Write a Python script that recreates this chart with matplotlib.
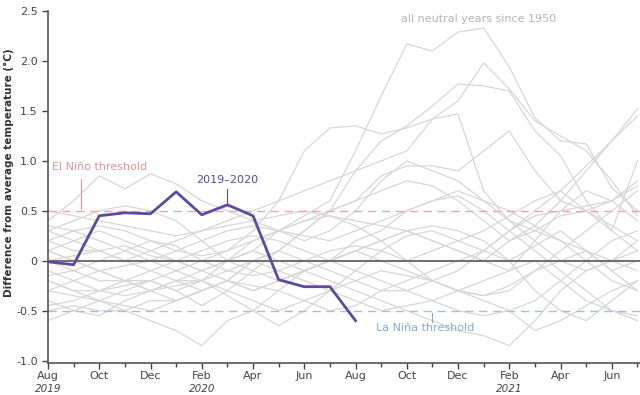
import matplotlib.pyplot as plt
import matplotlib.transforms as mtransforms
import numpy as np

# months since Aug 2019
months = np.arange(24)
tick_labels = ["Aug", "Oct", "Dec", "Feb", "Apr", "Jun",
               "Aug", "Oct", "Dec", "Feb", "Apr", "Jun"]
year_labels = {0: "2019", 6: "2020", 18: "2021"}

enso_2019_2020 = [-0.01, -0.04, 0.45, 0.48, 0.47, 0.69, 0.46, 0.56, 0.45,
                  -0.19, -0.26, -0.26, -0.60]

neutral_years = [
    [0.1, 0.0, -0.1, -0.2, -0.2, -0.3, -0.2, 0.0, 0.1, 0.3, 0.45, 0.6, 1.1, 1.65, 2.17, 2.1, 2.29, 2.33, 1.94, 1.43, 1.2, 1.17, 0.73, 0.5],
    [-0.3, -0.35, -0.4, -0.3, -0.2, -0.1, 0.0, 0.1, 0.3, 0.6, 1.1, 1.33, 1.35, 1.27, 1.33, 1.42, 1.6, 1.98, 1.72, 1.4, 1.25, 1.1, 0.8, 0.45],
    [0.2, 0.1, 0.1, 0.0, -0.1, -0.2, -0.3, -0.2, 0.0, 0.1, 0.3, 0.5, 0.9, 1.2, 1.35, 1.55, 1.77, 1.75, 1.7, 1.3, 1.05, 0.6, 0.3, 0.1],
    [-0.5, -0.45, -0.5, -0.5, -0.4, -0.4, -0.3, -0.2, -0.3, -0.2, -0.1, 0.0, 0.1, 0.2, 0.3, 0.2, 0.1, 0.0, 0.2, 0.35, 0.6, 0.9, 1.2, 1.52],
    [0.0, -0.1, -0.2, -0.2, -0.3, -0.4, -0.3, -0.2, 0.0, 0.1, 0.0, -0.1, -0.2, -0.3, -0.3, -0.2, -0.1, 0.1, 0.3, 0.5, 0.7, 0.95, 1.2, 1.45],
    [0.4, 0.6, 0.85, 0.72, 0.87, 0.77, 0.6, 0.5, 0.4, 0.3, 0.2, 0.3, 0.5, 0.8, 1.0, 0.9, 0.8, 0.6, 0.5, 0.35, 0.2, 0.1, 0.0, -0.1],
    [0.3, 0.2, 0.1, 0.0, 0.1, 0.2, 0.3, 0.4, 0.5, 0.6, 0.7, 0.8, 0.9, 1.0, 1.1, 1.42, 1.47, 0.7, 0.4, 0.2, 0.0, -0.1, 0.0, 0.2],
    [-0.2, -0.3, -0.3, -0.25, -0.2, -0.3, -0.45, -0.3, -0.1, 0.1, 0.3, 0.5, 0.6, 0.85, 0.95, 0.95, 0.9, 1.1, 1.3, 0.9, 0.6, 0.5, 0.6, 0.75],
    [-0.2, -0.3, -0.4, -0.5, -0.6, -0.7, -0.85, -0.6, -0.5, -0.3, -0.1, 0.0, 0.2, 0.3, 0.5, 0.6, 0.7, 0.6, 0.4, 0.3, 0.2, 0.0, -0.2, -0.3],
    [0.1, 0.2, 0.3, 0.2, 0.1, 0.0, -0.1, 0.0, 0.1, 0.0, -0.1, -0.2, -0.3, -0.4, -0.5, -0.6, -0.7, -0.75, -0.85, -0.6, -0.3, -0.1, 0.0, 0.1],
    [-0.4, -0.5, -0.55, -0.4, -0.3, -0.2, -0.1, 0.0, 0.2, 0.3, 0.4, 0.45, 0.35, 0.2, 0.0, -0.2, -0.3, -0.4, -0.5, -0.7, -0.6, -0.45, -0.3, -0.2],
    [0.5, 0.45, 0.4, 0.35, 0.3, 0.25, 0.3, 0.35, 0.4, 0.45, 0.5, 0.45, 0.4, 0.35, 0.3, 0.2, 0.1, 0.0, -0.1, 0.2, 0.5, 0.7, 0.6, 0.4],
    [0.0, 0.05, 0.1, 0.15, 0.05, 0.0, -0.1, -0.2, -0.3, -0.2, -0.1, 0.0, 0.1, 0.0, -0.1, -0.2, -0.3, -0.35, -0.3, -0.1, 0.1, 0.3, 0.5, 0.7],
    [-0.6, -0.5, -0.4, -0.45, -0.5, -0.4, -0.3, -0.2, -0.25, -0.3, -0.4, -0.5, -0.45, -0.3, -0.2, -0.1, 0.0, 0.1, 0.3, 0.45, 0.5, 0.55, 0.6, 0.8],
    [0.3, 0.4, 0.5, 0.55, 0.5, 0.4, 0.2, 0.0, -0.1, -0.2, -0.1, 0.0, 0.1, 0.2, 0.3, 0.35, 0.3, 0.2, 0.0, -0.3, -0.5, -0.6, -0.4, -0.2],
    [-0.1, -0.2, -0.3, -0.35, -0.3, -0.2, -0.2, -0.3, -0.4, -0.5, -0.4, -0.3, -0.2, -0.1, -0.15, -0.2, -0.3, -0.35, -0.25, -0.1, 0.0, 0.1, -0.1, -0.3],
    [0.2, 0.3, 0.35, 0.3, 0.2, 0.1, 0.05, 0.1, 0.2, 0.3, 0.4, 0.5, 0.6, 0.7, 0.8, 0.75, 0.6, 0.4, 0.2, 0.3, 0.45, 0.5, 0.35, 0.2],
    [-0.3, -0.2, -0.1, -0.2, -0.3, -0.25, -0.2, -0.1, 0.0, -0.1, -0.2, -0.3, -0.4, -0.5, -0.45, -0.4, -0.3, -0.2, -0.1, 0.0, -0.2, -0.4, -0.5, -0.55],
    [0.35, 0.3, 0.2, 0.1, 0.0, -0.1, -0.2, -0.35, -0.5, -0.65, -0.5, -0.3, -0.1, 0.1, 0.25, 0.3, 0.2, 0.1, 0.0, 0.15, 0.3, 0.1, -0.1, 0.0],
    [-0.45, -0.4, -0.3, -0.2, -0.1, 0.0, 0.1, 0.2, 0.25, 0.2, 0.1, 0.0, -0.1, -0.2, -0.3, -0.4, -0.5, -0.55, -0.5, -0.4, -0.2, 0.0, 0.2, 0.3],
    [0.1, 0.0, -0.1, -0.05, 0.0, 0.1, 0.2, 0.3, 0.35, 0.3, 0.25, 0.2, 0.3, 0.4, 0.5, 0.6, 0.65, 0.5, 0.3, 0.1, -0.1, -0.3, -0.5, -0.6],
    [-0.15, -0.1, 0.0, 0.1, 0.2, 0.15, 0.0, -0.1, -0.15, -0.1, 0.0, 0.1, 0.15, 0.1, 0.0, 0.1, 0.2, 0.3, 0.45, 0.6, 0.7, 0.5, 0.3, 1.0],
]

plt.rcParams['font.family'] = ['DejaVu Sans']

fig = plt.figure(figsize=(6.4, 3.95), dpi=100)
ax = fig.add_axes([0.075, 0.082, 0.925, 0.89])

for series in neutral_years:
    ax.plot(months, series, color="#d6d6d6", lw=0.9, zorder=1)

ax.axhline(0, color="#6e6e6e", lw=1.4, zorder=2)
ax.axhline(0.5, color="#e6a8a8", lw=1, ls=(0, (6, 4)), zorder=2)
ax.axhline(-0.5, color="#9cc3dd", lw=1, ls=(0, (6, 4)), zorder=2)

ax.plot(months[:len(enso_2019_2020)], enso_2019_2020, color="#5b4a9e", lw=2, zorder=3)

# annotations
ax.text(0.15, 0.94, "El Niño threshold", color="#d99494", fontsize=8, va="center", ha="left")
ax.plot([1.3, 1.3], [0.82, 0.52], color="#d99494", lw=0.8)
ax.text(7.0, 0.81, "2019\u20132020", color="#5b4a9e", fontsize=8, va="center", ha="center")
ax.plot([7.0, 7.0], [0.72, 0.58], color="#5b4a9e", lw=0.8)
ax.text(14.7, -0.67, "La Niña threshold", color="#7fadd0", fontsize=8, va="center", ha="center")
ax.plot([15.0, 15.0], [-0.52, -0.61], color="#7fadd0", lw=0.8)
ax.text(16.8, 2.42, "all neutral years since 1950", color="#b3b3b3", fontsize=8, va="center", ha="center")

ax.set_xlim(0, 23.1)
ax.set_ylim(-1.02, 2.5)
ax.set_yticks([2.5, 2.0, 1.5, 1.0, 0.5, 0, -0.5, -1.0])
ax.set_yticklabels(["2.5", "2.0", "1.5", "1.0", "0.5", "0", "-0.5", "-1.0"])
ax.set_xticks(np.arange(0, 24, 2))
ax.set_xticklabels(tick_labels)
ax.set_xticks(np.arange(0, 24), minor=True)
ax.tick_params(axis="both", labelsize=8, colors="#444444", length=4, width=1)
ax.tick_params(axis="x", pad=2)
ax.tick_params(axis="x", which="minor", length=3, width=1, colors="#444444")

for side in ["top", "right"]:
    ax.spines[side].set_visible(False)
for side in ["left", "bottom"]:
    ax.spines[side].set_color("#555555")
    ax.spines[side].set_linewidth(1.2)

ax.set_ylabel("Difference from average temperature (°C)", fontsize=7.5,
              fontweight="bold", color="#333333")
ax.yaxis.set_label_coords(-0.058, 0.54)

trans = mtransforms.blended_transform_factory(ax.transData, ax.transAxes)
for m, yr in year_labels.items():
    ax.text(m, -0.075, yr, transform=trans, fontsize=7.5, style="italic",
            color="#444444", ha="center", va="center")

fig.savefig("out.png", dpi=100)
